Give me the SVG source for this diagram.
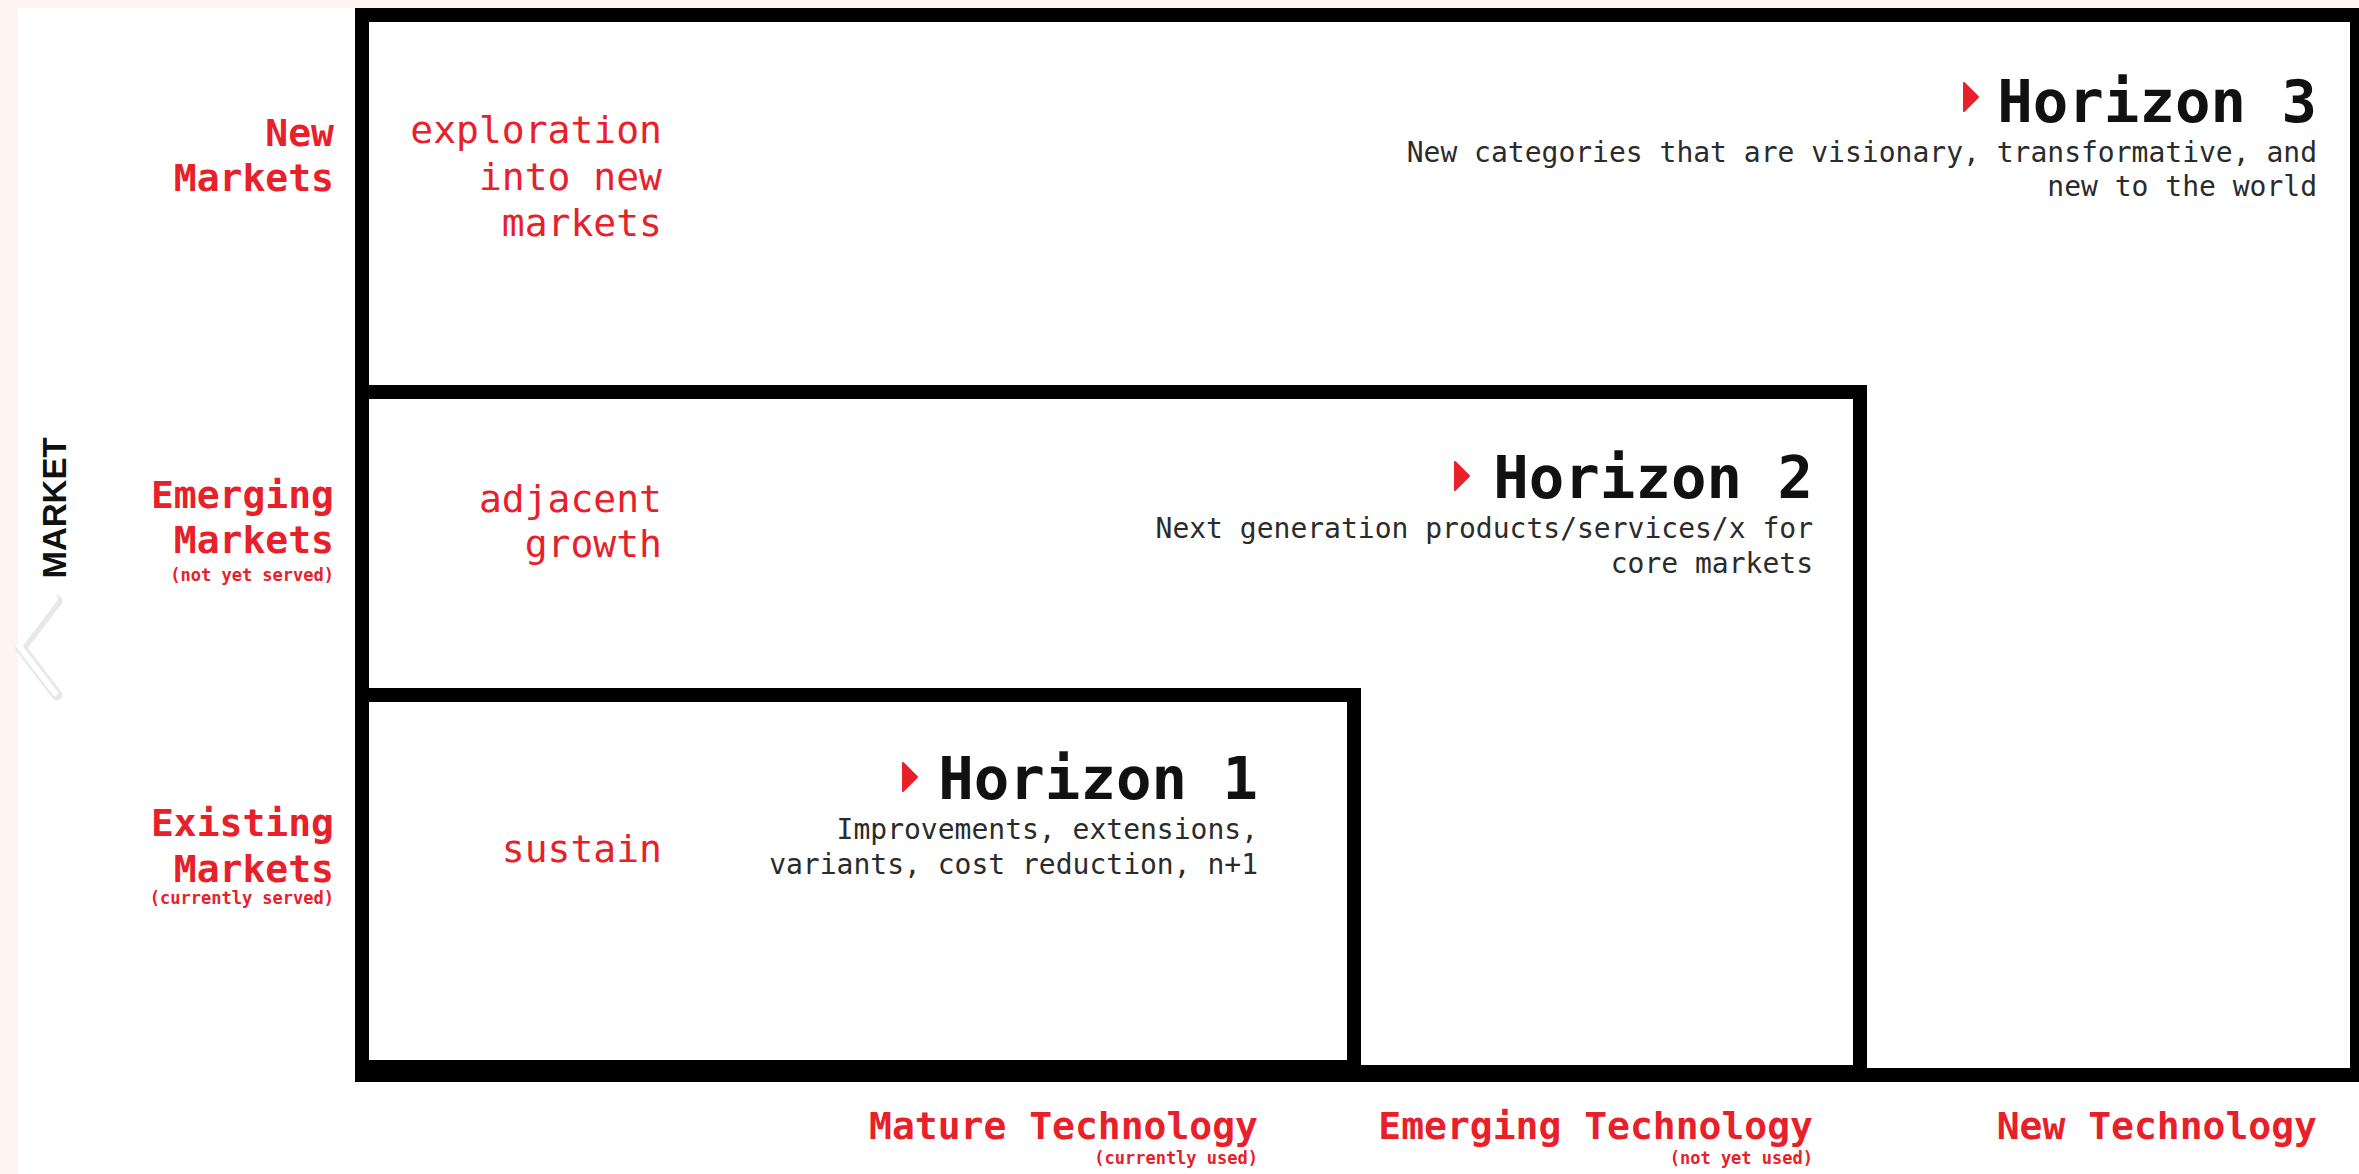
<svg xmlns="http://www.w3.org/2000/svg" width="2359" height="1174" viewBox="0 0 2359 1174">
  <style>
    .box { fill: #ffffff; stroke: #000000; stroke-width: 14; }
    .red { fill: #e8202a; font-family: "DejaVu Sans Mono", "Liberation Mono", monospace; }
    .rb { font-weight: bold; font-size: 38px; }
    .rr { font-weight: normal; font-size: 38px; }
    .small { font-weight: bold; font-size: 17px; }
    .title { fill: #111111; font-family: "DejaVu Sans Mono", "Liberation Mono", monospace; font-weight: bold; font-size: 59px; }
    .desc { fill: #2b2b2b; font-family: "DejaVu Sans Mono", "Liberation Mono", monospace; font-size: 28px; }
    .tri { fill: #e8202a; stroke: #e8202a; stroke-width: 2; stroke-linejoin: round; }
  </style>
  <rect x="0" y="0" width="2359" height="1174" fill="#fdf3f0"/>
  <rect x="18" y="8" width="2341" height="1166" fill="#ffffff"/>

  <g id="horizon3">
    <rect class="box" x="362" y="15" width="1995" height="1060"/>
    <polygon class="tri" points="1964,83 1978,97 1964,111"/>
    <text class="title" x="2317" y="122" text-anchor="end">Horizon 3</text>
    <text class="desc" x="2317" y="162" text-anchor="end">New categories that are visionary, transformative, and</text>
    <text class="desc" x="2317" y="196" text-anchor="end">new to the world</text>
  </g>

  <g id="horizon2">
    <rect class="box" x="362" y="392" width="1498" height="680"/>
    <polygon class="tri" points="1455,462 1469,476 1455,490"/>
    <text class="title" x="1813" y="498" text-anchor="end">Horizon 2</text>
    <text class="desc" x="1813" y="538" text-anchor="end">Next generation products/services/x for</text>
    <text class="desc" x="1813" y="573" text-anchor="end">core markets</text>
  </g>

  <g id="horizon1">
    <rect class="box" x="362" y="695" width="992" height="372"/>
    <polygon class="tri" points="903,763 917,777 903,791"/>
    <text class="title" x="1258" y="799" text-anchor="end">Horizon 1</text>
    <text class="desc" x="1258" y="839" text-anchor="end">Improvements, extensions,</text>
    <text class="desc" x="1258" y="874" text-anchor="end">variants, cost reduction, n+1</text>
  </g>

  <g id="inner-labels">
    <text class="red rr" x="662" y="143" text-anchor="end">exploration</text>
    <text class="red rr" x="662" y="190" text-anchor="end">into new</text>
    <text class="red rr" x="662" y="236" text-anchor="end">markets</text>
    <text class="red rr" x="662" y="512" text-anchor="end">adjacent</text>
    <text class="red rr" x="662" y="557" text-anchor="end">growth</text>
    <text class="red rr" x="662" y="862" text-anchor="end">sustain</text>
  </g>

  <g id="market-labels">
    <text class="red rb" x="334" y="146" text-anchor="end">New</text>
    <text class="red rb" x="334" y="191" text-anchor="end">Markets</text>
    <text class="red rb" x="334" y="508" text-anchor="end">Emerging</text>
    <text class="red rb" x="334" y="553" text-anchor="end">Markets</text>
    <text class="red small" x="334" y="581" text-anchor="end">(not yet served)</text>
    <text class="red rb" x="334" y="836" text-anchor="end">Existing</text>
    <text class="red rb" x="334" y="882" text-anchor="end">Markets</text>
    <text class="red small" x="334" y="904" text-anchor="end">(currently served)</text>
  </g>

  <g id="tech-labels">
    <text class="red rb" x="1258" y="1139" text-anchor="end">Mature Technology</text>
    <text class="red small" x="1258" y="1164" text-anchor="end">(currently used)</text>
    <text class="red rb" x="1813" y="1139" text-anchor="end">Emerging Technology</text>
    <text class="red small" x="1813" y="1164" text-anchor="end">(not yet used)</text>
    <text class="red rb" x="2317" y="1139" text-anchor="end">New Technology</text>
  </g>

  <g id="axis-label">
    <text x="66" y="508" text-anchor="middle" transform="rotate(-90 66 508)" font-family="Liberation Sans, Arial, sans-serif" font-weight="bold" font-size="33" fill="#111111">MARKET</text>
  </g>

  <g id="chevron">
    <polyline points="57,601 21,648 57,695" fill="none" stroke="#dedede" stroke-width="11" stroke-linecap="round" stroke-linejoin="round" opacity="0.7"/>
    <polyline points="55,599 19,646 55,693" fill="none" stroke="#ffffff" stroke-width="6" stroke-linecap="round" stroke-linejoin="round"/>
  </g>
</svg>
